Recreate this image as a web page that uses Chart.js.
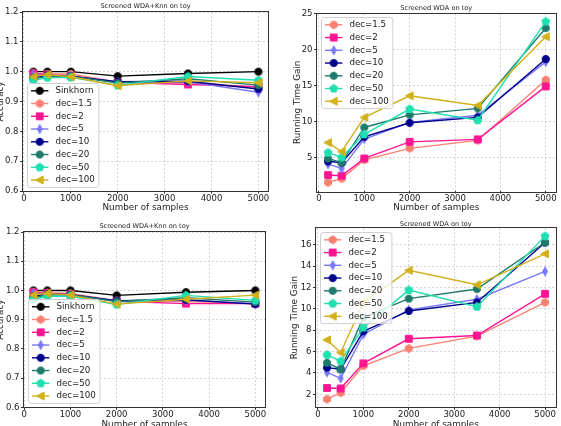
<!DOCTYPE html>
<html><head><meta charset="utf-8">
<script src="https://cdn.jsdelivr.net/npm/chart.js@4/dist/chart.umd.min.js"></script>
<style>
html,body{margin:0;padding:0;background:#fff;overflow:hidden;width:561px;height:426px;position:relative}
canvas{position:absolute}
</style></head><body>
<canvas id="c1" width="285" height="213" style="left:-5px;top:0px"></canvas>
<canvas id="c2" width="281" height="213" style="left:280px;top:0px"></canvas>
<canvas id="c3" width="285" height="217" style="left:-5px;top:213px"></canvas>
<canvas id="c4" width="281" height="217" style="left:280px;top:213px"></canvas>
<script>
// ---------- data ----------
const samples = [200, 500, 1000, 2000, 3500, 5000];
const xTickValues = [0, 1000, 2000, 3000, 4000, 5000];
const accTickValues = [0.6, 0.7, 0.8, 0.9, 1.0, 1.1, 1.2];
const timeTickValuesTop = [5, 10, 15, 20, 25];
const timeTickValuesBottom = [2, 4, 6, 8, 10, 12, 14, 16];
const seriesLabels = ['Sinkhorn', 'dec=1.5', 'dec=2', 'dec=5', 'dec=10', 'dec=20', 'dec=50', 'dec=100'];

// top-left: accuracy
const accTopSinkhorn = [1.0, 1.0, 1.0, 0.985, 0.994, 1.0];
const accTopDec1_5  = [0.995, 0.992, 0.992, 0.965, 0.963, 0.948];
const accTopDec2    = [0.993, 0.99, 0.986, 0.964, 0.957, 0.95];
const accTopDec5    = [0.99, 0.986, 0.985, 0.964, 0.966, 0.931];
const accTopDec10   = [0.98, 0.987, 0.985, 0.966, 0.968, 0.942];
const accTopDec20   = [0.975, 0.985, 0.985, 0.962, 0.976, 0.955];
const accTopDec50   = [0.971, 0.98, 0.981, 0.954, 0.984, 0.971];
const accTopDec100  = [0.984, 0.99, 0.983, 0.953, 0.969, 0.963];

// top-right: running time gain
const timeTopDec1_5 = [1.57, 2.1, 4.7, 6.3, 7.4, 15.8];
const timeTopDec2   = [2.6, 2.5, 4.9, 7.2, 7.55, 14.9];
const timeTopDec5   = [4.1, 3.5, 7.6, 9.9, 10.9, 18.3];
const timeTopDec10  = [4.5, 4.3, 7.9, 9.85, 10.6, 18.7];
const timeTopDec20  = [4.9, 4.3, 9.2, 10.95, 11.85, 23.0];
const timeTopDec50  = [5.7, 5.05, 8.25, 11.75, 10.2, 23.9];
const timeTopDec100 = [7.1, 5.85, 10.6, 13.6, 12.25, 21.8];

// bottom-left: accuracy
const accBotSinkhorn = [1.0, 1.0, 1.0, 0.983, 0.994, 1.0];
const accBotDec1_5  = [0.995, 0.992, 0.99, 0.965, 0.962, 0.955];
const accBotDec2    = [0.993, 0.99, 0.986, 0.963, 0.955, 0.955];
const accBotDec5    = [0.99, 0.986, 0.985, 0.964, 0.966, 0.955];
const accBotDec10   = [0.98, 0.988, 0.985, 0.965, 0.968, 0.953];
const accBotDec20   = [0.975, 0.985, 0.985, 0.962, 0.975, 0.96];
const accBotDec50   = [0.97, 0.98, 0.98, 0.952, 0.983, 0.966];
const accBotDec100  = [0.985, 0.99, 0.984, 0.953, 0.97, 0.984];

// bottom-right: running time gain
const timeBotDec1_5 = [1.55, 2.15, 4.67, 6.3, 7.45, 10.6];
const timeBotDec2   = [2.6, 2.55, 4.9, 7.2, 7.5, 11.4];
const timeBotDec5   = [4.05, 3.5, 7.6, 9.9, 10.9, 13.5];
const timeBotDec10  = [4.5, 4.35, 7.9, 9.8, 10.6, 16.2];
const timeBotDec20  = [4.95, 4.35, 9.2, 10.95, 11.85, 16.2];
const timeBotDec50  = [5.7, 5.1, 8.25, 11.75, 10.2, 16.8];
const timeBotDec100 = [7.1, 5.9, 10.6, 13.6, 12.25, 15.15];

// ---------- styles ----------
const FONT = '"DejaVu Sans", "Liberation Sans", sans-serif';
const seriesColors = {
  'Sinkhorn': '#000000', 'dec=1.5': '#fa8072', 'dec=2': '#ff1493', 'dec=5': '#7878f8',
  'dec=10': '#00008b', 'dec=20': '#1e7b6b', 'dec=50': '#20dfb0', 'dec=100': '#d1b01a'
};
const seriesMarkers = {
  'Sinkhorn': 'o', 'dec=1.5': 'h', 'dec=2': 's', 'dec=5': 'd',
  'dec=10': 'o', 'dec=20': 'o', 'dec=50': 'p', 'dec=100': '<'
};

function markerCanvas(shape, color) {
  const s = 12, c = document.createElement('canvas');
  c.width = s; c.height = s;
  const g = c.getContext('2d');
  g.translate(s / 2, s / 2);
  g.fillStyle = color; g.strokeStyle = color; g.lineWidth = 1;
  g.beginPath();
  const poly = (n, r) => {
    for (let k = 0; k < n; k++) {
      const a = -Math.PI / 2 + k * 2 * Math.PI / n;
      const px = r * Math.cos(a), py = r * Math.sin(a);
      if (k === 0) g.moveTo(px, py); else g.lineTo(px, py);
    }
    g.closePath();
  };
  switch (shape) {
    case 'o': g.arc(0, 0, 3.6, 0, 2 * Math.PI); break;
    case 's': g.rect(-3.4, -3.4, 6.8, 6.8); break;
    case 'd': g.moveTo(0, -4.5); g.lineTo(2.5, 0); g.lineTo(0, 4.5); g.lineTo(-2.5, 0); g.closePath(); break;
    case 'p': poly(5, 4.2); break;
    case 'h': poly(6, 4.0); break;
    case '<': g.moveTo(-4.2, 0); g.lineTo(3.4, -4.0); g.lineTo(3.4, 4.0); g.closePath(); break;
  }
  g.fill(); g.stroke();
  return c;
}

function makeDatasets(labels, arrays) {
  const n = labels.length;
  return labels.map((lab, i) => ({
    label: lab,
    data: samples.map((x, j) => ({ x: x, y: arrays[i][j] })),
    borderColor: seriesColors[lab],
    backgroundColor: seriesColors[lab],
    borderWidth: 1.4,
    pointStyle: markerCanvas(seriesMarkers[lab], seriesColors[lab]),
    pointRadius: 4,
    pointHoverRadius: 4,
    tension: 0,
    clip: false,
    order: n - i
  }));
}

const decoPlugin = {
  id: 'deco',
  afterDraw(chart) {
    const o = chart.options.plugins.deco;
    const ctx = chart.ctx, ca = chart.chartArea;
    ctx.save();
    // frame
    ctx.strokeStyle = '#333';
    ctx.lineWidth = 1;
    ctx.strokeRect(Math.round(ca.left) - 0.5, Math.round(ca.top) - 0.5,
      Math.round(ca.right - ca.left) + 1, Math.round(ca.bottom - ca.top) + 1);
    // title
    ctx.fillStyle = '#222';
    ctx.font = '6.6px ' + FONT;
    ctx.textAlign = 'center';
    ctx.textBaseline = 'middle';
    ctx.fillText(o.title, (ca.left + ca.right) / 2, o.titleY);
    // legend
    const ds = chart.data.datasets;
    const fs = 8.7, rowGap = 12.75, padV = 7.3, handleLen = 17.4, padL = 3.5, textGap = 7;
    ctx.font = fs + 'px ' + FONT;
    let maxW = 0;
    ds.forEach(d => { maxW = Math.max(maxW, ctx.measureText(d.label).width); });
    const w = padL + handleLen + textGap + maxW + 4;
    const h = 2 * padV + (ds.length - 1) * rowGap;
    const x0 = Math.round(ca.left + 4.3) + 0.5;
    const y0 = Math.round(o.legendLoc === 'lower' ? ca.bottom - 4.5 - h : ca.top + o.legendTop) + 0.5;
    const r = 2.5;
    ctx.beginPath();
    ctx.moveTo(x0 + r, y0);
    ctx.lineTo(x0 + w - r, y0); ctx.arcTo(x0 + w, y0, x0 + w, y0 + r, r);
    ctx.lineTo(x0 + w, y0 + h - r); ctx.arcTo(x0 + w, y0 + h, x0 + w - r, y0 + h, r);
    ctx.lineTo(x0 + r, y0 + h); ctx.arcTo(x0, y0 + h, x0, y0 + h - r, r);
    ctx.lineTo(x0, y0 + r); ctx.arcTo(x0, y0, x0 + r, y0, r);
    ctx.closePath();
    ctx.fillStyle = 'rgba(255,255,255,0.8)';
    ctx.fill();
    ctx.strokeStyle = '#d0d0d0';
    ctx.lineWidth = 1;
    ctx.stroke();
    ds.forEach((d, i) => {
      const cy = y0 + padV + i * rowGap;
      const hx0 = x0 + padL, hx1 = hx0 + handleLen;
      ctx.strokeStyle = d.borderColor;
      ctx.lineWidth = d.borderWidth;
      ctx.beginPath(); ctx.moveTo(hx0, cy); ctx.lineTo(hx1, cy); ctx.stroke();
      const img = d.pointStyle;
      ctx.drawImage(img, (hx0 + hx1) / 2 - img.width / 2, cy - img.height / 2);
      ctx.fillStyle = '#222';
      ctx.textAlign = 'left';
      ctx.textBaseline = 'middle';
      ctx.fillText(d.label, hx1 + textGap, cy);
    });
    ctx.restore();
  }
};

function makeChart(id, p) {
  new Chart(document.getElementById(id), {
    type: 'line',
    data: { datasets: makeDatasets(p.labels, p.arrays) },
    plugins: [decoPlugin],
    options: {
      responsive: false, maintainAspectRatio: false, devicePixelRatio: 1,
      animation: false, events: [],
      layout: { padding: { top: p.padTop, right: p.padRight, bottom: 0, left: 0 } },
      plugins: {
        legend: { display: false }, tooltip: { enabled: false }, title: { display: false },
        deco: { title: p.title, titleY: p.titleY, legendLoc: p.legendLoc, legendTop: 3.5 }
      },
      scales: {
        x: {
          type: 'linear', min: p.xMin, max: p.xMax,
          afterBuildTicks: s => { s.ticks = xTickValues.map(v => ({ value: v })); },
          afterFit: s => { s.height = p.xH; },
          ticks: { callback: v => String(v), font: { family: FONT, size: 8.5 }, color: '#222',
                   maxRotation: 0, autoSkip: false, padding: 0 },
          grid: { color: '#c8c8c8', lineWidth: 0.8, tickLength: 2.5, tickColor: '#333', tickWidth: 1 },
          border: { display: false, dash: [2, 2] },
          title: { display: true, text: 'Number of samples', font: { family: FONT, size: 8.8 },
                   color: '#222', padding: { top: 0, bottom: 0 } }
        },
        y: {
          type: 'linear', min: p.yMin, max: p.yMax,
          afterBuildTicks: s => { s.ticks = p.yTicks.map(v => ({ value: v })); },
          afterFit: s => { s.width = p.yW; },
          ticks: { callback: p.yFmt, font: { family: FONT, size: 8.5 }, color: '#222',
                   autoSkip: false, padding: 1.5 },
          grid: { color: '#c8c8c8', lineWidth: 0.8, tickLength: 3, tickColor: '#333', tickWidth: 1 },
          border: { display: false, dash: [2, 2] },
          title: { display: true, text: p.yTitle, font: { family: FONT, size: 8.8 },
                   color: '#222', padding: { top: p.yTitlePad, bottom: 0 } }
        }
      }
    }
  });
}

const accFmt = v => v.toFixed(1);
const timeFmt = v => String(v);

makeChart('c1', {
  labels: seriesLabels,
  arrays: [accTopSinkhorn, accTopDec1_5, accTopDec2, accTopDec5, accTopDec10, accTopDec20, accTopDec50, accTopDec100],
  title: 'Screened WDA+Knn on toy', titleY: 6, legendLoc: 'lower',
  yMin: 0.6, yMax: 1.2, yTicks: accTickValues, yFmt: accFmt, yTitle: 'Accuracy', yTitlePad: 0,
  xMin: -20, xMax: 5205, padTop: 12, padRight: 12, yW: 28, xH: 22
});
makeChart('c2', {
  labels: seriesLabels.slice(1),
  arrays: [timeTopDec1_5, timeTopDec2, timeTopDec5, timeTopDec10, timeTopDec20, timeTopDec50, timeTopDec100],
  title: 'Screened WDA on toy', titleY: 8, legendLoc: 'upper',
  yMin: 0.38, yMax: 25.02, yTicks: timeTickValuesTop, yFmt: timeFmt, yTitle: 'Running Time Gain', yTitlePad: 12,
  xMin: -43, xMax: 5217, padTop: 13.5, padRight: 1, yW: 37, xH: 22
});
makeChart('c3', {
  labels: seriesLabels,
  arrays: [accBotSinkhorn, accBotDec1_5, accBotDec2, accBotDec5, accBotDec10, accBotDec20, accBotDec50, accBotDec100],
  title: 'Screened WDA+Knn on toy', titleY: 13.3, legendLoc: 'lower',
  yMin: 0.6, yMax: 1.2, yTicks: accTickValues, yFmt: accFmt, yTitle: 'Accuracy', yTitlePad: 0,
  xMin: -5, xMax: 5210, padTop: 19, padRight: 15, yW: 29, xH: 22.7
});
makeChart('c4', {
  labels: seriesLabels.slice(1),
  arrays: [timeBotDec1_5, timeBotDec2, timeBotDec5, timeBotDec10, timeBotDec20, timeBotDec50, timeBotDec100],
  title: 'Screened WDA on toy', titleY: 11.5, legendLoc: 'upper',
  yMin: 0.79, yMax: 17.56, yTicks: timeTickValuesBottom, yFmt: timeFmt, yTitle: 'Running Time Gain', yTitlePad: 9.6,
  xMin: -43, xMax: 5232, padTop: 15, padRight: 3, yW: 36, xH: 22.7
});
</script>
</body></html>
